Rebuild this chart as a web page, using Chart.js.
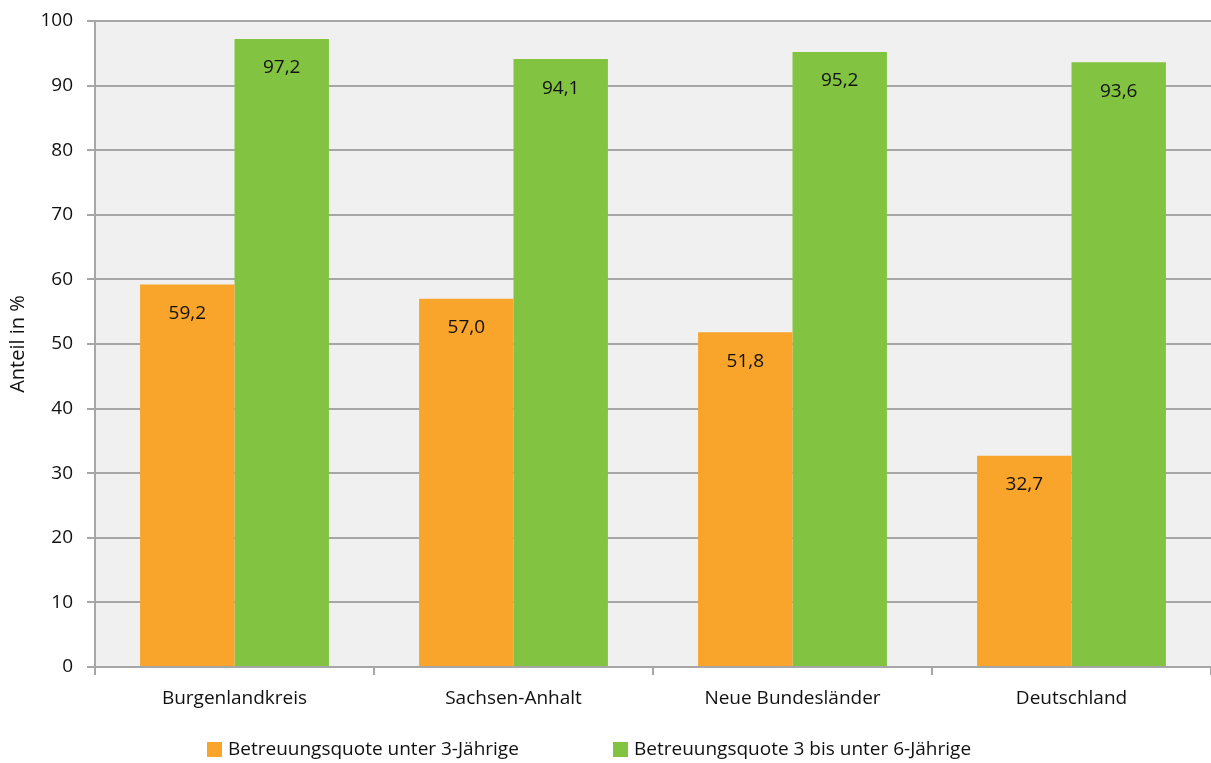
<!DOCTYPE html>
<html>
<head>
<meta charset="utf-8">
<script src="https://cdn.jsdelivr.net/npm/chart.js@4.4.1/dist/chart.umd.min.js"></script>
<style>
  html, body { margin: 0; padding: 0; background: #ffffff; }
  #wrap { width: 1211px; height: 763px; position: relative; }
</style>
</head>
<body>
<div id="wrap"><canvas id="chart" width="1211" height="763"></canvas></div>
<script>
// Regions compared
const categories = ['Burgenlandkreis', 'Sachsen-Anhalt', 'Neue Bundesländer', 'Deutschland'];
// Childcare rates in percent
const under3 = [59.2, 57.0, 51.8, 32.7];
const from3to6 = [97.2, 94.1, 95.2, 93.6];
const seriesNames = ['Betreuungsquote unter 3-Jährige', 'Betreuungsquote 3 bis unter 6-Jährige'];
const yTicks = [0, 10, 20, 30, 40, 50, 60, 70, 80, 90, 100];

const FONT = '"Open Sans", "Noto Sans", sans-serif';
const ORANGE = '#f9a42b';
const GREEN = '#82c341';
const GRID = '#a6a6a6';

// Light grey fill behind the plotting area
const plotBackground = {
  id: 'plotBackground',
  beforeDraw(chart) {
    const { ctx, chartArea: a } = chart;
    ctx.save();
    ctx.fillStyle = '#f0f0f0';
    ctx.fillRect(a.left, a.top, a.right - a.left, a.bottom - a.top);
    ctx.restore();
  }
};

// Value labels inside the top of each bar, German decimal comma
const valueLabels = {
  id: 'valueLabels',
  afterDatasetsDraw(chart) {
    const { ctx } = chart;
    ctx.save();
    ctx.font = '19px ' + FONT;
    ctx.fillStyle = '#111111';
    ctx.textAlign = 'center';
    ctx.textBaseline = 'middle';
    chart.data.datasets.forEach((ds, i) => {
      chart.getDatasetMeta(i).data.forEach((bar, j) => {
        const txt = ds.data[j].toFixed(1).replace('.', ',');
        ctx.fillText(txt, bar.x, bar.y + 29);
      });
    });
    ctx.restore();
  }
};

// Legend row beneath the category labels
const bottomLegend = {
  id: 'bottomLegend',
  afterDraw(chart) {
    const { ctx } = chart;
    const starts = [207, 613];
    const y = 750;
    ctx.save();
    ctx.font = '19px ' + FONT;
    ctx.textBaseline = 'middle';
    ctx.textAlign = 'left';
    chart.data.datasets.forEach((ds, i) => {
      ctx.fillStyle = ds.backgroundColor;
      ctx.fillRect(starts[i], y - 8, 15, 15);
      ctx.fillStyle = '#111111';
      ctx.fillText(ds.label, starts[i] + 21, y);
    });
    ctx.restore();
  }
};

new Chart(document.getElementById('chart'), {
  type: 'bar',
  data: {
    labels: categories,
    datasets: [
      { label: seriesNames[0], data: under3, backgroundColor: ORANGE, borderWidth: 0 },
      { label: seriesNames[1], data: from3to6, backgroundColor: GREEN, borderWidth: 0 }
    ]
  },
  options: {
    responsive: false,
    animation: false,
    devicePixelRatio: 1,
    layout: { padding: { top: 21, right: 0, bottom: 46, left: 0 } },
    datasets: { bar: { categoryPercentage: 0.677, barPercentage: 1.0 } },
    plugins: {
      legend: { display: false },
      tooltip: { enabled: false }
    },
    scales: {
      x: {
        afterFit(scale) { scale.height = 50; },
        grid: {
          display: true,
          drawOnChartArea: false,
          drawTicks: true,
          tickLength: 8,
          color: GRID,
          lineWidth: 2,
          offset: true
        },
        border: { display: true, color: GRID, width: 2 },
        ticks: {
          color: '#111111',
          font: { family: FONT, size: 19 },
          padding: 12
        }
      },
      y: {
        min: 0,
        max: 100,
        afterFit(scale) {
          scale.width = 95;
          scale.paddingTop = 0;
          scale.paddingBottom = 0;
        },
        afterBuildTicks(scale) { scale.ticks = yTicks.map(v => ({ value: v })); },
        grid: {
          color: GRID,
          lineWidth: 2,
          drawTicks: true,
          tickLength: 8
        },
        border: { display: true, color: GRID, width: 2 },
        title: {
          display: true,
          text: 'Anteil in %',
          color: '#111111',
          font: { family: FONT, size: 20 },
          padding: { top: 6, bottom: 4 }
        },
        ticks: {
          color: '#111111',
          font: { family: FONT, size: 19 },
          padding: 14
        }
      }
    }
  },
  plugins: [plotBackground, valueLabels, bottomLegend]
});
</script>
</body>
</html>
